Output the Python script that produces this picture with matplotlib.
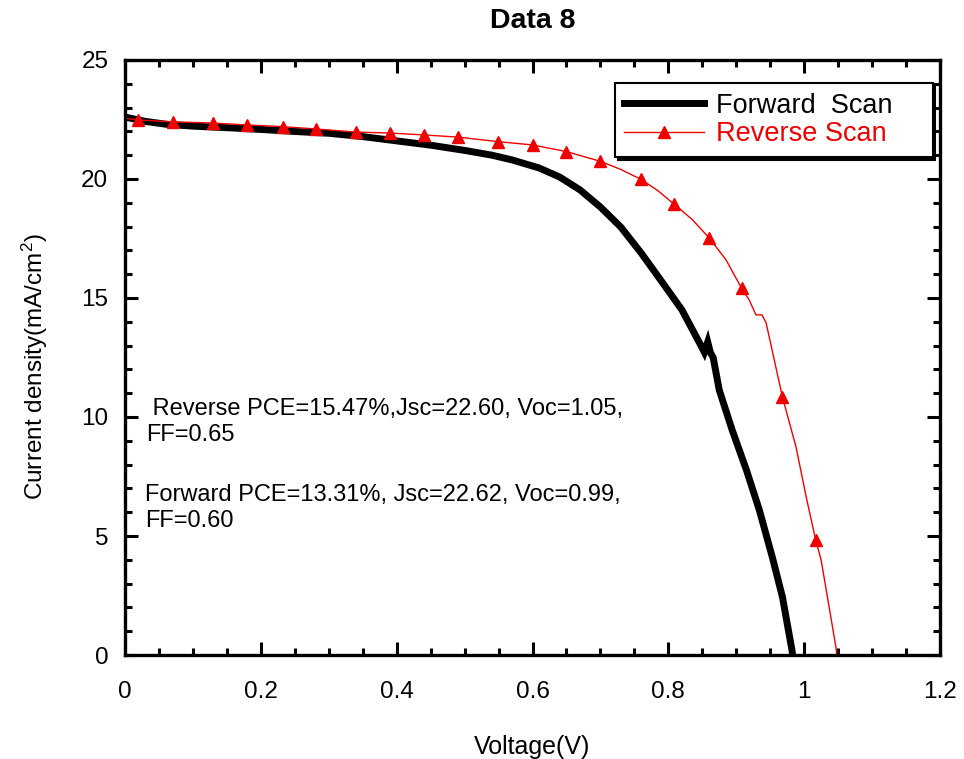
import matplotlib
matplotlib.use("Agg")
import matplotlib.pyplot as plt
from matplotlib.ticker import MultipleLocator

plt.rcParams['font.family'] = ['Liberation Sans', 'DejaVu Sans']
plt.rcParams['mathtext.default'] = 'regular'

# Forward scan (black, thick)
fwd_v = [0.0, 0.03, 0.06, 0.10, 0.16, 0.20, 0.26, 0.30, 0.35, 0.40, 0.45, 0.50, 0.54, 0.57,
         0.61, 0.64, 0.67, 0.70, 0.73, 0.76, 0.79, 0.82, 0.848, 0.853, 0.858, 0.862, 0.866,
         0.875, 0.894, 0.915, 0.934, 0.953, 0.968, 0.982, 0.983]
fwd_j = [22.60, 22.42, 22.30, 22.22, 22.14, 22.08, 21.98, 21.92, 21.78, 21.60, 21.42, 21.20, 21.00, 20.80,
         20.46, 20.08, 19.54, 18.82, 17.98, 16.89, 15.70, 14.50, 13.00, 12.72, 13.15, 12.70, 12.50,
         11.13, 9.45, 7.77, 6.09, 4.12, 2.44, 0.21, 0.0]

# Reverse scan (red, thin, triangles)
rev_v = [0.0, 0.019, 0.071, 0.129, 0.179, 0.232, 0.281, 0.340, 0.390, 0.440, 0.490, 0.549, 0.600,
         0.650, 0.700, 0.730, 0.760, 0.785, 0.809, 0.835, 0.860, 0.885, 0.908, 0.919, 0.929, 0.938,
         0.944, 0.968, 0.988, 1.003, 1.017, 1.025, 1.047, 1.048]
rev_j = [22.55, 22.48, 22.40, 22.35, 22.27, 22.20, 22.10, 21.97, 21.93, 21.85, 21.76, 21.57, 21.43,
         21.15, 20.74, 20.40, 19.98, 19.50, 18.93, 18.30, 17.53, 16.60, 15.40, 14.92, 14.29, 14.29,
         13.95, 10.84, 8.74, 6.64, 4.83, 3.99, 0.29, 0.0]
rev_marker_idx = [1, 2, 3, 4, 5, 6, 7, 8, 9, 10, 11, 12, 13, 14, 16, 18, 20, 22, 27, 30]

legend_labels = ["Forward  Scan", "Reverse Scan"]
note_reverse = " Reverse PCE=15.47%,Jsc=22.60, Voc=1.05,\nFF=0.65"
note_forward = "Forward PCE=13.31%, Jsc=22.62, Voc=0.99,\nFF=0.60"

fig = plt.figure(figsize=(9.64, 7.59), dpi=100)
ax = fig.add_axes([0.1297, 0.137, 0.8454, 0.784])

ax.plot(fwd_v, fwd_j, color='black', lw=5, solid_joinstyle='miter', label=legend_labels[0])
ax.plot(rev_v, rev_j, color='#ee0000', lw=1.0, marker='^', markersize=8,
        markevery=rev_marker_idx, markeredgecolor='#ee0000', markerfacecolor='#ee0000',
        label=legend_labels[1])

ax.set_xlim(0, 1.2)
ax.set_ylim(0, 25)
ax.xaxis.set_major_locator(MultipleLocator(0.2))
ax.xaxis.set_minor_locator(MultipleLocator(0.05))
ax.yaxis.set_major_locator(MultipleLocator(5))
ax.yaxis.set_minor_locator(MultipleLocator(1))
ax.xaxis.set_major_formatter(plt.FuncFormatter(lambda v, p: ('%g' % round(v, 2))))

ax.tick_params(which='both', direction='in', top=True, right=True, width=2.2, colors='black')
ax.tick_params(which='major', length=9.5, labelsize=17.5)
ax.tick_params(axis='x', which='major', pad=19)
ax.tick_params(axis='y', which='major', pad=12)
ax.tick_params(which='minor', length=5)
for s in ax.spines.values():
    s.set_linewidth(2.4)

ax.set_xlabel("Voltage(V)", fontsize=18, labelpad=23)
ax.set_ylabel("Current density(mA/cm$^2$)", fontsize=17.5)
ax.yaxis.set_label_coords(-0.092, 0.484)
ax.set_title("Data 8", fontsize=20.5, fontweight='bold', pad=23)

ax.text(0.0258, 0.392, note_reverse, transform=ax.transAxes, fontsize=17, va='center', ha='left',
        linespacing=1.25)
ax.text(0.0245, 0.247, note_forward, transform=ax.transAxes, fontsize=17, va='center', ha='left',
        linespacing=1.25)

leg = ax.legend(loc='upper left', bbox_to_anchor=(0.601, 0.832, 0.39, 0.129), mode='expand',
                borderaxespad=0, fancybox=False, frameon=True, fontsize=19.5,
                handlelength=2.95, handletextpad=0.45, borderpad=0.35, labelspacing=0.1,
                shadow={'facecolor': 'black', 'edgecolor': 'black', 'alpha': 1.0})
leg.get_frame().set_edgecolor('black')
leg.get_frame().set_linewidth(1.5)
leg.get_frame().set_alpha(1.0)
leg.get_texts()[1].set_color('#ee0000')

fig.savefig("out.png", dpi=100)
